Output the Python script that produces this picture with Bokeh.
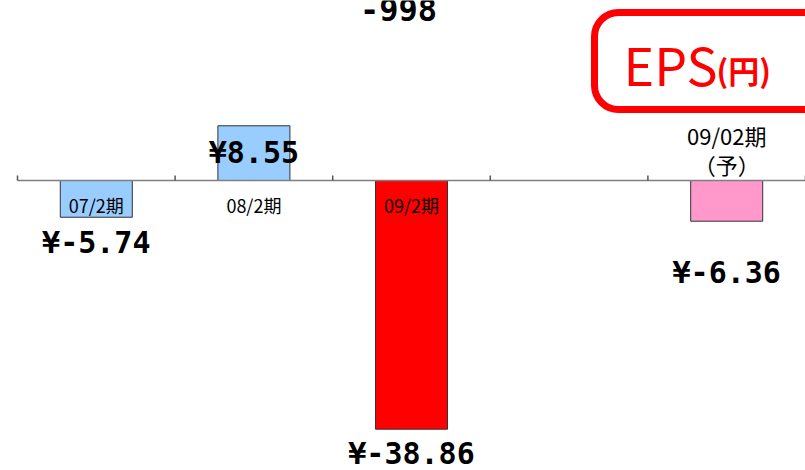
from bokeh.plotting import figure
from bokeh.models import ColumnDataSource, BoxAnnotation
from bokeh.core.properties import value
from bokeh.embed import file_html
from bokeh.resources import INLINE

# ---- data ----
slots = ["07/2期", "08/2期", "09/2期", "", "09/02期（予）"]
periods = ["07/2期", "08/2期", "09/2期", "09/02期（予）"]
eps = [-5.74, 8.55, -38.86, -6.36]
bar_colors = ["#99CCFF", "#99CCFF", "#FF0000", "#FF99CC"]
value_labels = ["¥%.2f" % v for v in eps]
title_main = "EPS"
title_unit = "(円)"
top_fragment = "-998"

# ---- layout helpers (pixels -> data) ----
W, H = 805, 470
X0PX, SLOT, Y0PX, PXU = 17.0, 157.6, 180.0, 6.4
def xd(px):
    return (px - X0PX) / SLOT
def yd(py):
    return (Y0PX - py) / PXU

p = figure(width=W, height=H, x_range=(xd(0), xd(W)), y_range=(yd(H), yd(0)),
           output_backend="svg", toolbar_location=None, min_border=0)
p.axis.visible = False
p.grid.visible = False
p.outline_line_color = None
p.background_fill_color = "white"
p.border_fill_color = "white"

xs = [slots.index(c) + 0.5 for c in periods]
src = ColumnDataSource(dict(x=xs, top=[max(v, 0) for v in eps],
                            bottom=[min(v, 0) for v in eps], color=bar_colors,
                            lab=value_labels))
p.vbar(x="x", width=0.457, top="top", bottom="bottom", fill_color="color",
       line_color="#333333", line_width=1, source=src)

# axis line + ticks
p.segment(x0=[xd(X0PX)], y0=[0], x1=[xd(W)], y1=[0], line_color="#7f7f7f", line_width=1.5)
tick_x = list(range(len(slots) + 1))
p.segment(x0=tick_x, y0=[0] * len(tick_x), x1=tick_x, y1=[5 / PXU] * len(tick_x),
          line_color="#555555", line_width=1.5)

# value labels (offset below bar end, in px)
label_dy = [25, 27, 24, 51]
ends = [min(v, 0) if v < 0 else v for v in eps]
ly = [e - d / PXU for e, d in zip(ends, label_dy)]
p.text(x=xs, y=ly, text=value_labels, text_font=value("DejaVu Sans Mono"),
       text_font_style="bold", text_font_size="30px", text_align="center",
       text_baseline="middle", text_color="black")

# category labels
cat_x = [slots.index(c) + 0.5 for c in periods[:3]]
p.text(x=cat_x, y=[yd(204)] * 3, text=periods[:3], text_font=value("Noto Sans CJK JP"),
       text_font_size="18px", text_align="center", text_baseline="middle", text_color="black")
fx = slots.index(periods[3]) + 0.5
p.text(x=[fx, fx], y=[yd(134), yd(163)], text=["09/02期", "（予）"],
       text_font=value("Noto Sans CJK JP"), text_font_size="22px", text_align="center",
       text_baseline="middle", text_color="black")

# top fragment (partly cut off in the reference)
p.text(x=[xd(398)], y=[yd(9)], text=[top_fragment], text_font=value("DejaVu Sans Mono"),
       text_font_style="bold", text_font_size="32px", text_align="center",
       text_baseline="middle", text_color="black")

# EPS title box
box = BoxAnnotation(left=xd(594), right=xd(W + 40), top=yd(12), bottom=yd(109),
                    fill_alpha=0, line_color="#FF0000", line_alpha=1.0, line_width=7,
                    border_radius=24)
p.add_layout(box)
p.text(x=[xd(623)], y=[yd(63)], text=[title_main], text_font=value("Noto Sans CJK JP"),
       text_font_size="52px", text_align="left", text_baseline="middle", text_color="#FF0000")
p.text(x=[xd(716)], y=[yd(69)], text=[title_unit], text_font=value("Noto Sans CJK JP"),
       text_font_style="bold", text_font_size="31px", text_align="left",
       text_baseline="middle", text_color="#FF0000")

open("out.html", "w").write(file_html(p, INLINE))
